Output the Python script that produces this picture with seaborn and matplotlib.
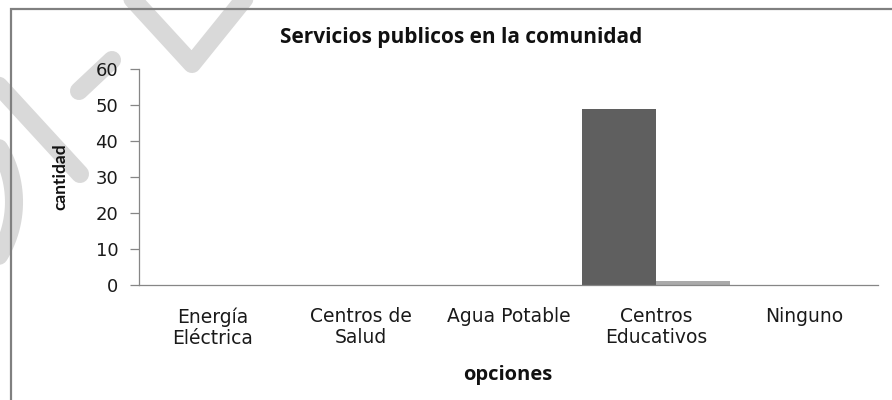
import seaborn as sns
import matplotlib.pyplot as plt
import pandas as pd
import numpy as np
from matplotlib.lines import Line2D
from matplotlib.patches import Rectangle

# datos del grafico
opciones = ['Energía\nEléctrica', 'Centros de\nSalud', 'Agua Potable',
            'Centros\nEducativos', 'Ninguno']
serie1 = [0, 0, 0, 49, 0]
serie2 = [0, 0, 0, 1, 0]
series = ['Serie1', 'Serie2']
colores = ['#5f5f5f', '#aaaaaa']
y_ticks = [0, 10, 20, 30, 40, 50, 60]

titulo = 'Servicios publicos en la comunidad'

df = pd.DataFrame({
    'opciones': opciones * 2,
    'cantidad': serie1 + serie2,
    'serie': [series[0]] * len(opciones) + [series[1]] * len(opciones),
})

W, H = 892, 400


def px(x, y):
    # pixeles (origen arriba-izquierda) -> fraccion de figura
    return x / W, 1 - y / H


sns.set_style('white')
plt.rcParams['font.family'] = ['DejaVu Sans']

fig = plt.figure(figsize=(W / 100, H / 100), dpi=100)
x0, y0 = px(139, 285)
x1, y1 = px(878, 69.3)
ax = fig.add_axes([x0, y0, x1 - x0, y1 - y0])
ax.patch.set_alpha(0)

sns.barplot(data=df, x='opciones', y='cantidad', hue='serie', palette=colores,
            width=1, dodge=True, saturation=1, linewidth=0, legend=False, ax=ax)

ax.set_xlim(-0.5, len(opciones) - 0.5)
ax.set_ylim(0, 60)
ax.set_yticks(y_ticks)
ax.set_xlabel('')
ax.set_ylabel('')
for s in ['top', 'right']:
    ax.spines[s].set_visible(False)
for s in ['left', 'bottom']:
    ax.spines[s].set_color('#868686')
    ax.spines[s].set_linewidth(0.9)
ax.tick_params(axis='y', left=True, length=6.5, width=0.9, color='#868686',
               pad=8.5, labelsize=13, labelcolor='#1a1a1a')
ax.tick_params(axis='x', bottom=False, length=0, pad=16, labelsize=13.5,
               labelcolor='#1a1a1a')
for t in ax.get_xticklabels():
    t.set_linespacing(1.15)

# textos
fig.text(*px(461, 38), titulo, ha='center', va='center', fontsize=15,
         fontweight='bold', family='Open Sans', color='#111111')
fig.text(*px(508, 375), 'opciones', ha='center', va='center', fontsize=14.5,
         fontweight='bold', family='Open Sans', color='#111111')
fig.text(*px(60, 177), 'cantidad', ha='center', va='center', fontsize=12.5,
         fontweight='bold', family='Lato', rotation=90, color='#111111')

# borde del area del grafico (recortado a la derecha y abajo)
bx, by = px(11, 9)
fig.add_artist(Rectangle((bx, -0.1), 1.2, by + 0.1, transform=fig.transFigure,
                         fill=False, edgecolor='#808080', linewidth=1.6,
                         zorder=1))

# marca de agua gris claro
wm = dict(color='#d9d9d9', linewidth=13, solid_capstyle='round',
          solid_joinstyle='round', zorder=-1, transform=fig.transFigure)
trazos = [
    [(126, -8), (192, 64), (250, -8)],
    [(79, 91), (112, 60)],
    [(-10, 76), (80, 174)],
]
for tr in trazos:
    xs, ys = zip(*[px(x, y) for x, y in tr])
    fig.add_artist(Line2D(xs, ys, **wm))
ang = np.linspace(-1.2, 1.2, 60)
xs, ys = zip(*[px(-90 + 104 * np.cos(a), 202 + 104 * np.sin(a)) for a in ang])
fig.add_artist(Line2D(xs, ys, **wm))

fig.savefig('out.png', dpi=100)
